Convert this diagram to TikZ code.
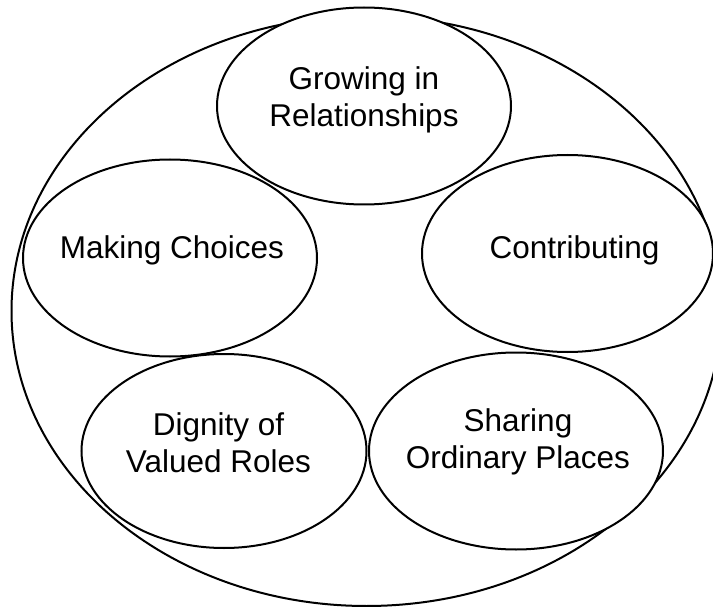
\documentclass[tikz,border=0pt]{standalone}
\usepackage{fontspec}
\setmainfont{Liberation Sans}
\usetikzlibrary{shapes.geometric}
\tikzset{
  outerell/.style={draw=black, line width=2pt, ellipse, inner sep=0pt, minimum width=710pt, minimum height=590pt},
  smallell/.style={draw=black, line width=2pt, fill=white, ellipse, inner sep=0pt, minimum width=294pt, minimum height=197pt},
  lbl/.style={align=center, font=\fontsize{31.5}{37.2}\selectfont, inner sep=0pt}
}
\begin{document}
\begin{tikzpicture}[x=1pt,y=-1pt]
\useasboundingbox (0,0) rectangle (713,607);
\node[outerell] (outer) at (366.5,311) {};
\node[smallell] (grow) at (364,106) {};
\node[smallell] (make) at (170,258) {};
\node[smallell, minimum width=291pt] (contr) at (567.5,253.5) {};
\node[smallell, minimum width=285pt, minimum height=194pt] (dign) at (224,451) {};
\node[smallell] (share) at (516,451) {};
\node[lbl] (growt) at (364,99.5) {Growing in\\Relationships};
\node[lbl] (maket) at (172,250) {Making Choices};
\node[lbl] (contrt) at (574.5,250) {Contributing};
\node[lbl] (dignt) at (218.5,443) {Dignity of\\Valued Roles};
\node[lbl] (sharet) at (518,441.5) {Sharing\\Ordinary Places};
\end{tikzpicture}
\end{document}
